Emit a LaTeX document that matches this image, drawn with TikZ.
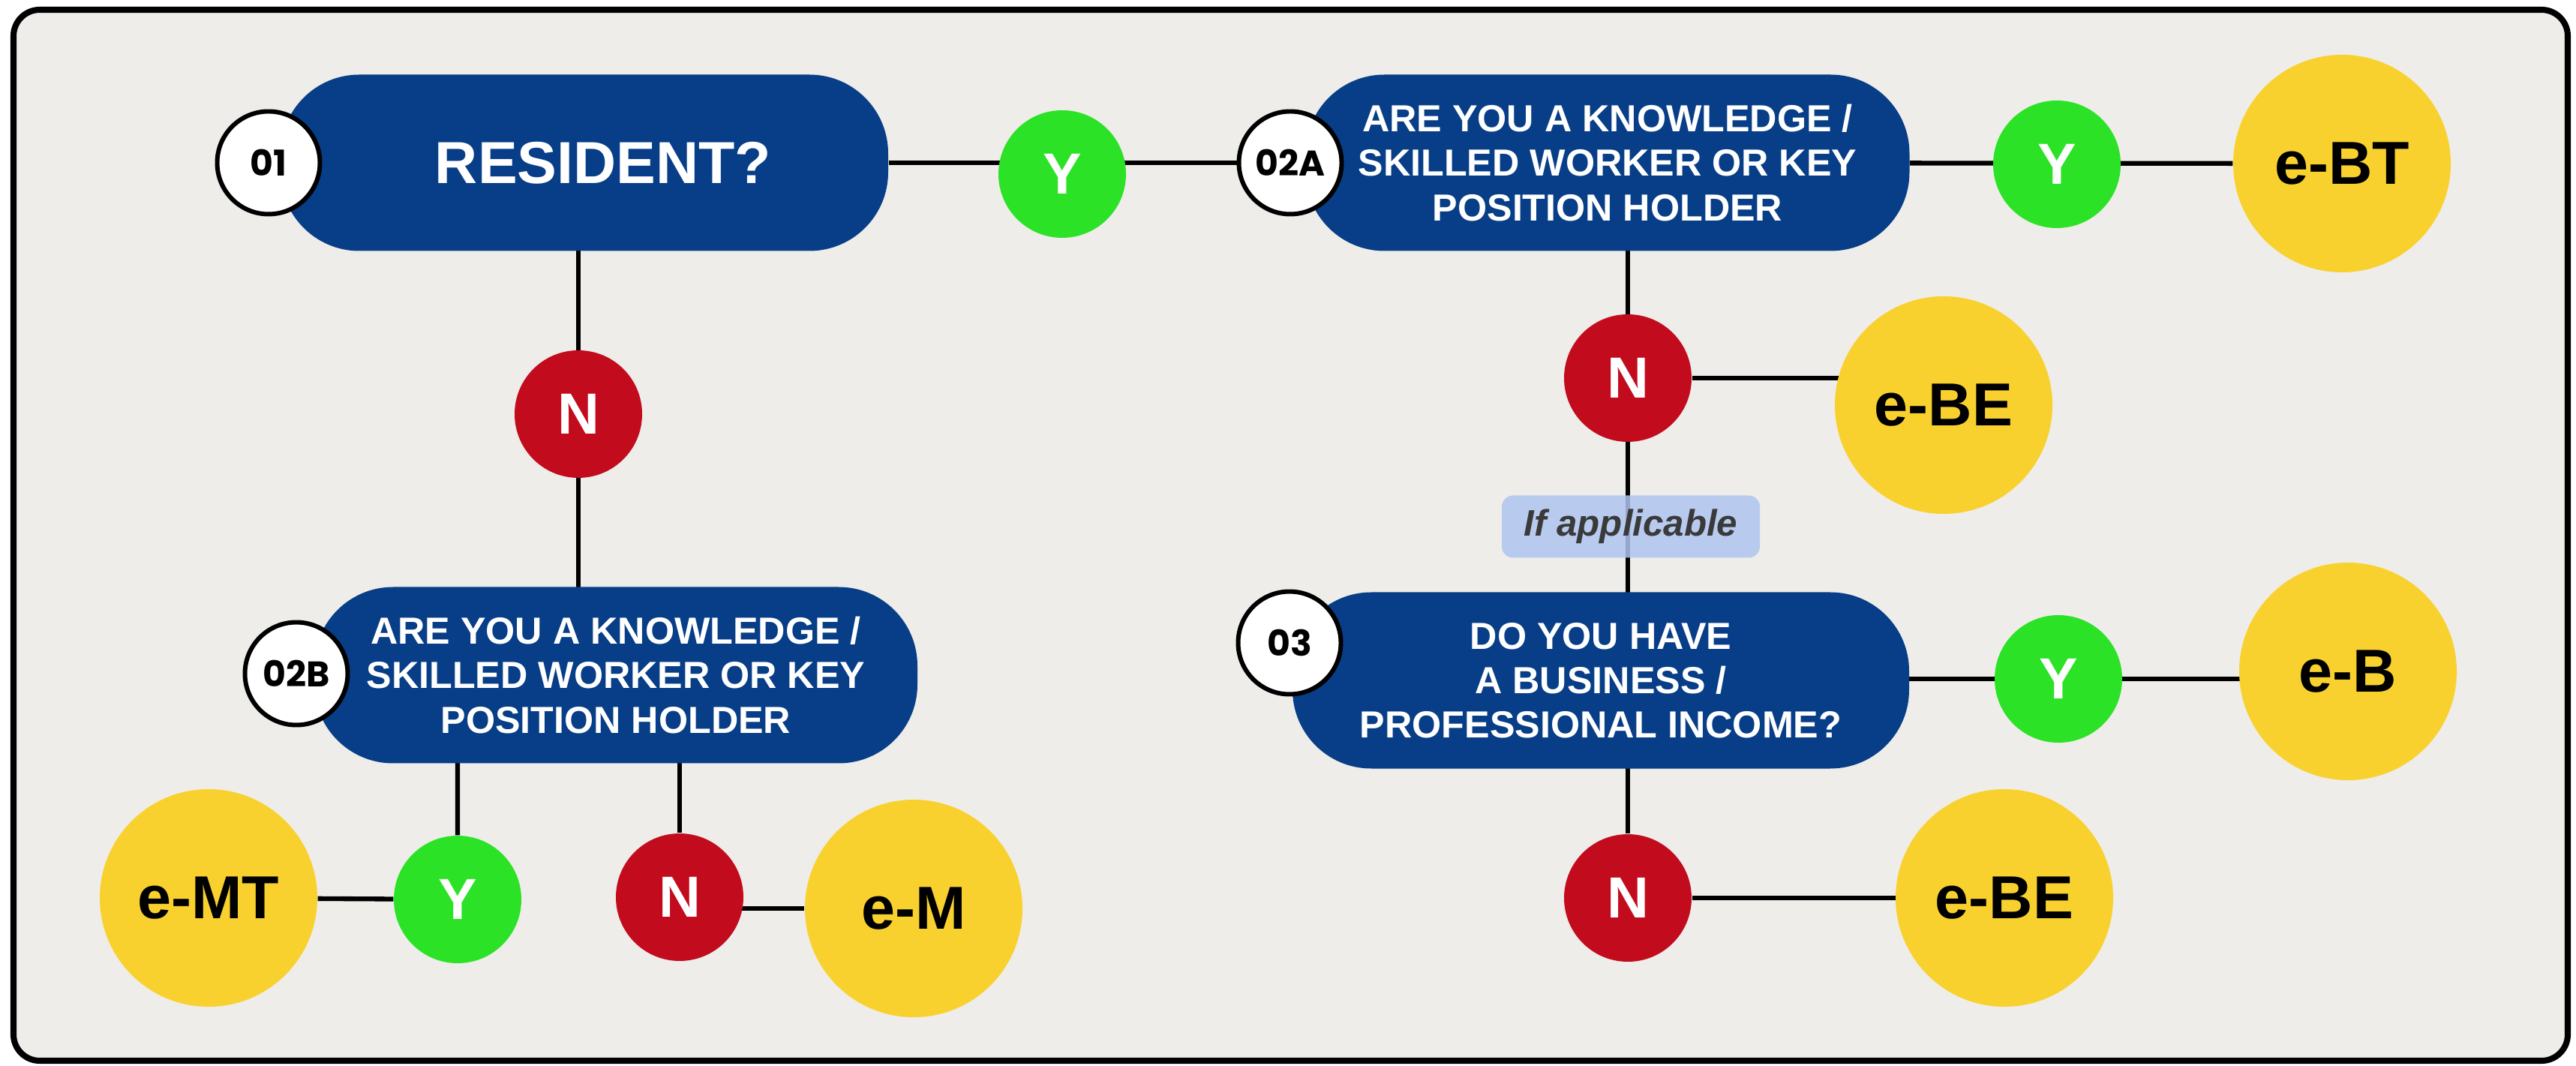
\documentclass[tikz,border=0pt]{standalone}
\usepackage{fontspec}
\setmainfont{Liberation Sans}
\newfontfamily\numfont{Poppins}
\usepackage{xcolor}
\usepackage{tikz}
\usetikzlibrary{backgrounds}
\definecolor{paper}{HTML}{EEEDE9}
\definecolor{qblue}{HTML}{073E87}
\definecolor{ygreen}{HTML}{2BE227}
\definecolor{nred}{HTML}{C30B1E}
\definecolor{formyellow}{HTML}{F9D12E}
\definecolor{notefill}{HTML}{AFC5EF}
\definecolor{notetext}{HTML}{3A3A3A}

\begin{document}
\begin{tikzpicture}[
	question/.style={rectangle,rounded corners=1.05cm,fill=qblue,text=white,minimum height=2.35cm,inner sep=0pt,align=center,font=\fontsize{14.3}{16.8}\selectfont\bfseries},
	stepno/.style={circle,draw=black,line width=1.7pt,fill=white,minimum size=1.37cm,inner sep=0pt,font=\numfont\fontsize{13.5}{13.5}\selectfont\bfseries},
	yesdot/.style={circle,fill=ygreen,text=white,minimum size=1.7cm,inner sep=0pt,font=\fontsize{22}{22}\selectfont\bfseries},
	nodot/.style={circle,fill=nred,text=white,minimum size=1.7cm,inner sep=0pt,font=\fontsize{22}{22}\selectfont\bfseries},
	form/.style={circle,fill=formyellow,minimum size=2.9cm,inner sep=0pt,font=\fontsize{23}{23}\selectfont\bfseries},
	note/.style={rectangle,rounded corners=0.15cm,fill=notefill,fill opacity=0.85,text opacity=1,text=notetext,minimum width=3.44cm,minimum height=0.83cm,inner sep=0pt,font=\fontsize{14}{14}\selectfont\bfseries\itshape},
	link/.style={line width=1.8pt,draw=black}
]
	\useasboundingbox (0,0) rectangle (34.34,-14.21);

	\node[question,minimum width=8.1cm] (q1) at (7.79,-2.17) {\fontsize{22.5}{22.5}\selectfont\hspace*{0.5cm}RESIDENT?};
	\node[stepno] (s1) at (3.58,-2.17) {01};
	\node[yesdot] (y1) at (14.16,-2.32) {Y};
	\node[question,minimum width=8.05cm] (q2a) at (21.43,-2.17) {ARE YOU A KNOWLEDGE /\\SKILLED WORKER OR KEY\\POSITION HOLDER};
	\node[stepno] (s2a) at (17.20,-2.17) {02A};
	\node[yesdot] (y2a) at (27.42,-2.19) {Y};
	\node[form] (ebt) at (31.22,-2.18) {e-BT};
	\node[nodot] (n2a) at (21.70,-5.04) {N};
	\node[form] (ebe1) at (25.91,-5.40) {e-BE};
	\node[question,minimum width=8.22cm] (q3) at (21.34,-9.07) {DO YOU HAVE\\A BUSINESS /\\PROFESSIONAL INCOME?};
	\node[stepno] (s3) at (17.19,-8.57) {03};
	\node[yesdot] (y3) at (27.44,-9.05) {Y};
	\node[form] (eb) at (31.30,-8.95) {e-B};
	\node[nodot] (n3) at (21.70,-11.97) {N};
	\node[form] (ebe2) at (26.72,-11.97) {e-BE};
	\node[nodot] (n1) at (7.71,-5.52) {N};
	\node[question,minimum width=8.04cm] (q2b) at (8.21,-9.00) {ARE YOU A KNOWLEDGE /\\SKILLED WORKER OR KEY\\POSITION HOLDER};
	\node[stepno] (s2b) at (3.95,-8.98) {02B};
	\node[yesdot] (y2b) at (6.10,-11.99) {Y};
	\node[form] (emt) at (2.78,-11.97) {e-MT};
	\node[nodot] (n2b) at (9.06,-11.96) {N};
	\node[form] (em) at (12.18,-12.11) {e-M};
	\node[note] (cond) at (21.74,-7.02) {If applicable};

	\begin{scope}[on background layer]
		\draw[line width=2.3pt,draw=black,fill=paper,rounded corners=0.35cm] (0.18,-0.13) rectangle (34.23,-14.14);
		\draw[link] (q1) -- (s2a);
		\draw[link] (q2a) -- (ebt);
		\draw[link] (n1 |- q1) -- (n1 |- q2b);
		\draw[link] (n2a |- q2a) -- (n2a |- q3);
		\draw[link] (n2a) -- (n2a -| ebe1);
		\draw[link] (q3 |- y3) -- (eb |- y3);
		\draw[link] (n3 |- q3) -- (n3) -- (n3 -| ebe2);
		\draw[link] (y2b |- q2b) -- (y2b) -- (emt);
		\draw[link] (n2b |- q2b) -- (n2b);
		\draw[link] (em -| n2b) -- (em);
	\end{scope}
\end{tikzpicture}
\end{document}
